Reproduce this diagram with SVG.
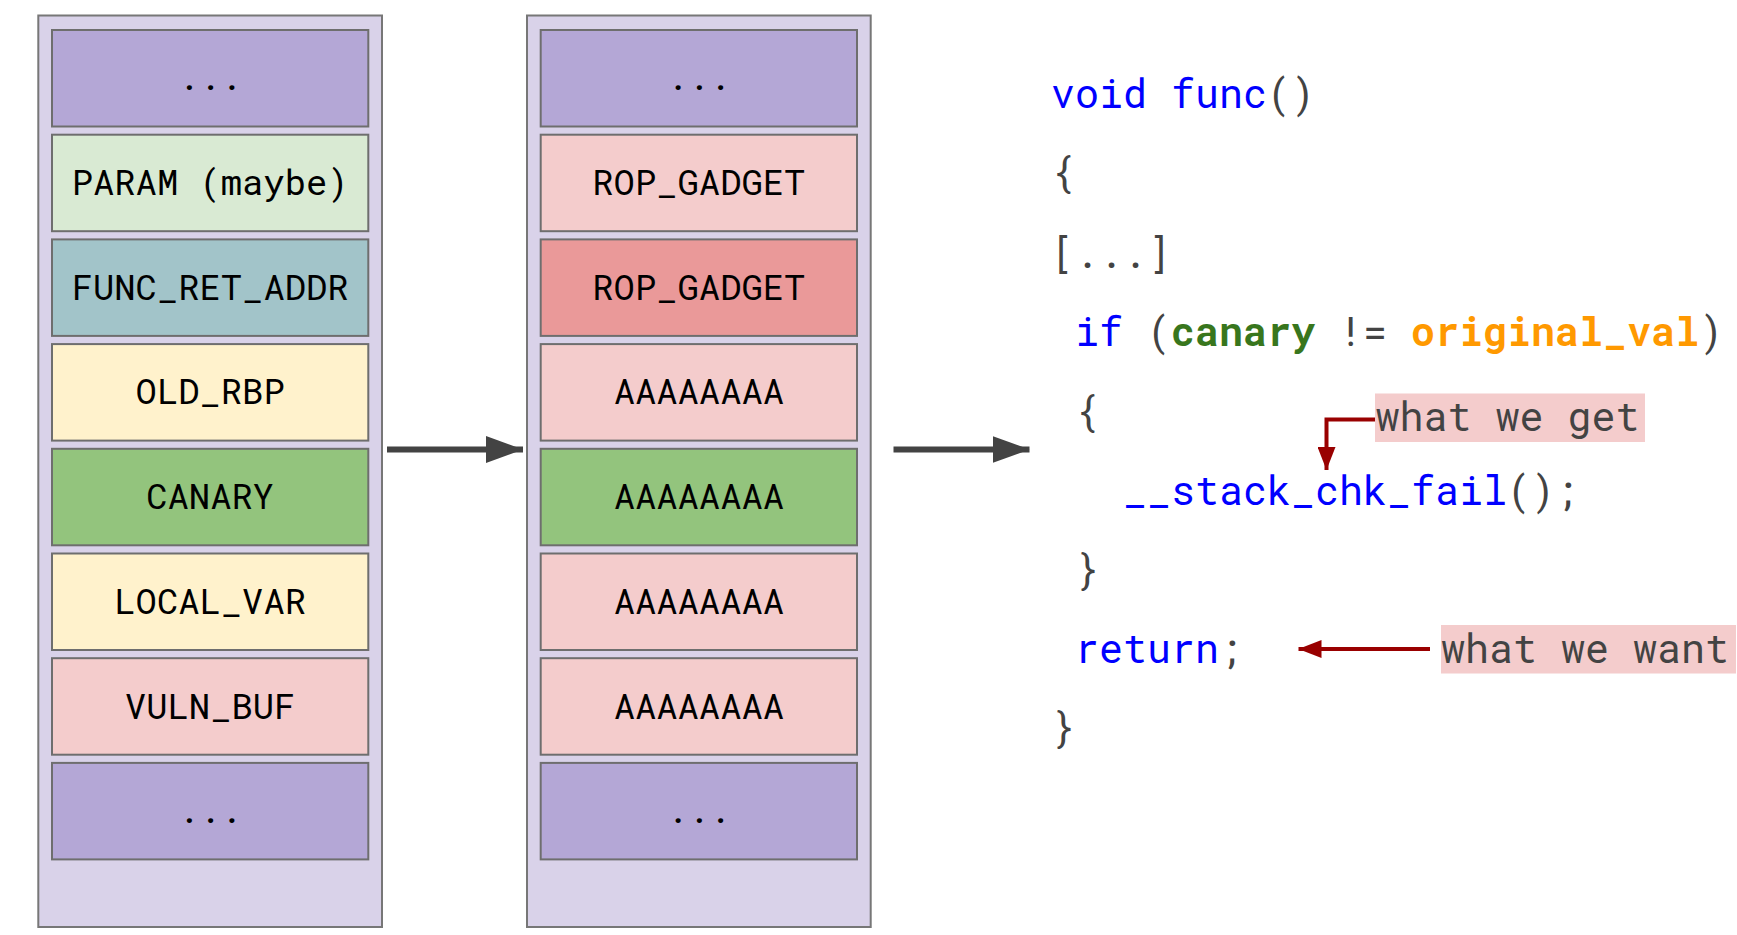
<svg xmlns="http://www.w3.org/2000/svg" width="1737" height="935" viewBox="0 0 1737 935">
<style>
.outer{fill:#d9d2e9;stroke:#777777;stroke-width:2}
.box{stroke:#6e6e6e;stroke-width:2}
.lbl{font-family:"Roboto Mono","Liberation Mono","DejaVu Sans Mono",monospace;font-size:35.5px;fill:#000;text-anchor:middle}
.code{font-family:"Roboto Mono","Liberation Mono","DejaVu Sans Mono",monospace;font-size:40px;fill:#434343;white-space:pre}
.kw{fill:#0000ff}
.g{fill:#38761d;font-weight:bold}
.o{fill:#ff9900;font-weight:bold}
.pu{fill:#b4a7d6}.lg{fill:#d9ead3}.te{fill:#a2c4c9}.ye{fill:#fff2cc}.gr{fill:#93c47d}.pk{fill:#f4cccc}.rd{fill:#ea9999}
</style>
<defs>
<marker id="ag" markerWidth="37" markerHeight="27" refX="37" refY="13.5" markerUnits="userSpaceOnUse" orient="auto"><path d="M0,0 L37,13.5 L0,27 Z" fill="#434343"/></marker>
<marker id="ar" markerWidth="23" markerHeight="18" refX="23" refY="9" markerUnits="userSpaceOnUse" orient="auto"><path d="M0,0 L23,9 L0,18 Z" fill="#990000"/></marker>
</defs>
<rect width="1737" height="935" fill="#ffffff"/>
<g id="stack-before">
<rect class="outer" x="38.3" y="15.5" width="343.7" height="911.5"/>
<g id="l0"><rect class="box pu" x="52" y="30" width="316.3" height="96.5"/><text class="lbl" x="210.15" y="90.3">...</text></g>
<g id="l1"><rect class="box lg" x="52" y="134.7" width="316.3" height="96.5"/><text class="lbl" x="210.15" y="195">PARAM (maybe)</text></g>
<g id="l2"><rect class="box te" x="52" y="239.4" width="316.3" height="96.5"/><text class="lbl" x="210.15" y="299.7">FUNC_RET_ADDR</text></g>
<g id="l3"><rect class="box ye" x="52" y="344.1" width="316.3" height="96.5"/><text class="lbl" x="210.15" y="404.4">OLD_RBP</text></g>
<g id="l4"><rect class="box gr" x="52" y="448.8" width="316.3" height="96.5"/><text class="lbl" x="210.15" y="509.1">CANARY</text></g>
<g id="l5"><rect class="box ye" x="52" y="553.5" width="316.3" height="96.5"/><text class="lbl" x="210.15" y="613.8">LOCAL_VAR</text></g>
<g id="l6"><rect class="box pk" x="52" y="658.2" width="316.3" height="96.5"/><text class="lbl" x="210.15" y="718.5">VULN_BUF</text></g>
<g id="l7"><rect class="box pu" x="52" y="762.9" width="316.3" height="96.5"/><text class="lbl" x="210.15" y="823.2">...</text></g>
</g>
<g id="stack-after">
<rect class="outer" x="527" y="15.5" width="343.7" height="911.5"/>
<g id="m0"><rect class="box pu" x="540.7" y="30" width="316.3" height="96.5"/><text class="lbl" x="698.85" y="90.3">...</text></g>
<g id="m1"><rect class="box pk" x="540.7" y="134.7" width="316.3" height="96.5"/><text class="lbl" x="698.85" y="195">ROP_GADGET</text></g>
<g id="m2"><rect class="box rd" x="540.7" y="239.4" width="316.3" height="96.5"/><text class="lbl" x="698.85" y="299.7">ROP_GADGET</text></g>
<g id="m3"><rect class="box pk" x="540.7" y="344.1" width="316.3" height="96.5"/><text class="lbl" x="698.85" y="404.4">AAAAAAAA</text></g>
<g id="m4"><rect class="box gr" x="540.7" y="448.8" width="316.3" height="96.5"/><text class="lbl" x="698.85" y="509.1">AAAAAAAA</text></g>
<g id="m5"><rect class="box pk" x="540.7" y="553.5" width="316.3" height="96.5"/><text class="lbl" x="698.85" y="613.8">AAAAAAAA</text></g>
<g id="m6"><rect class="box pk" x="540.7" y="658.2" width="316.3" height="96.5"/><text class="lbl" x="698.85" y="718.5">AAAAAAAA</text></g>
<g id="m7"><rect class="box pu" x="540.7" y="762.9" width="316.3" height="96.5"/><text class="lbl" x="698.85" y="823.2">...</text></g>
</g>
<g id="code">
<text class="code" x="1051" y="107.5"><tspan class="kw">void func</tspan>()</text>
<text class="code" x="1051" y="187">{</text>
<text class="code" x="1051" y="268">[...]</text>
<text class="code" x="1051" y="346"> <tspan class="kw">if</tspan> (<tspan class="g">canary</tspan> != <tspan class="o">original_val</tspan>)</text>
<text class="code" x="1051" y="426"> {</text>
<text class="code" x="1051" y="505">   <tspan class="kw">__stack_chk_fail</tspan>();</text>
<text class="code" x="1051" y="584"> }</text>
<text class="code" x="1051" y="663"> <tspan class="kw">return</tspan>;</text>
<text class="code" x="1051" y="742">}</text>
</g>
<g id="label-get">
<rect x="1375" y="393.5" width="270" height="48.5" fill="#f4cccc"/>
<text class="code" x="1375.5" y="431">what we get</text>
</g>
<g id="label-want">
<rect x="1441" y="625" width="295" height="48.5" fill="#f4cccc"/>
<text class="code" x="1441" y="663">what we want</text>
</g>
<g id="connectors" fill="none">
<line x1="387" y1="449.5" x2="523" y2="449.5" stroke="#434343" stroke-width="6" marker-end="url(#ag)"/>
<line x1="893.5" y1="449.5" x2="1029.5" y2="449.5" stroke="#434343" stroke-width="6" marker-end="url(#ag)"/>
<polyline points="1375,419.5 1326.5,419.5 1326.5,470" stroke="#990000" stroke-width="4" marker-end="url(#ar)"/>
<line x1="1430" y1="649" x2="1298.5" y2="649" stroke="#990000" stroke-width="4" marker-end="url(#ar)"/>
</g>
</svg>
